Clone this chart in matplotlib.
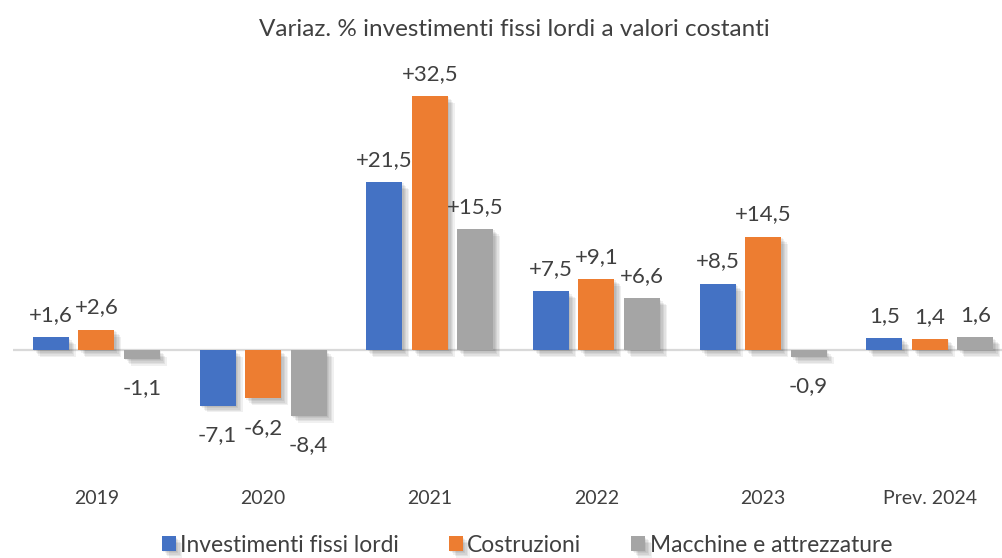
import matplotlib.pyplot as plt
import matplotlib.patheffects as pe
import numpy as np

## Data
anni = ["2019", "2020", "2021", "2022", "2023", "Prev. 2024"]
investimenti = [1.6, -7.1, 21.5, 7.5, 8.5, 1.5]
costruzioni = [2.6, -6.2, 32.5, 9.1, 14.5, 1.4]
macchine = [-1.1, -8.4, 15.5, 6.6, -0.9, 1.6]

serie = [
    ("Investimenti fissi lordi", investimenti, "#4472C4"),
    ("Costruzioni", costruzioni, "#ED7D31"),
    ("Macchine e attrezzature", macchine, "#A5A5A5"),
]

plt.rcParams['font.family'] = ['Lato', 'DejaVu Sans']
txt_col = "#404040"

fig = plt.figure(figsize=(10.03, 5.58), dpi=100)
ax = fig.add_axes([0.013, 1 - 443.8 / 558, 0.987, 383 / 558])

x = np.arange(len(anni))
w = 0.216
step = 0.273

# soft shadow, a few stacked offsets
ombra = [pe.SimplePatchShadow(offset=(d, -d), shadow_rgbFace="black", alpha=0.06) for d in (1, 2, 3, 4, 5)]
ombra.append(pe.Normal())

ax.axhline(0, color="#D9D9D9", lw=1.6, zorder=1)

for i, (nome, vals, col) in enumerate(serie):
    pos = x + (i - 1) * step
    bars = ax.bar(pos, vals, width=w, color=col, label=nome, zorder=3)
    for b in bars:
        b.set_path_effects(ombra)
    for j, (px, v) in enumerate(zip(pos, vals)):
        if j == len(anni) - 1:
            lab = f"{v:.1f}".replace(".", ",")
        else:
            lab = f"{v:+.1f}".replace(".", ",")
        off = 16 if v >= 0 else -21
        ax.annotate(lab, (px, v), xytext=(0, off), textcoords="offset points",
                    ha="center", va="center", fontsize=16, color=txt_col)

ax.set_xlim(-0.5, -0.5 + 990 / 166.7)
ax.set_ylim(-12, 37)
ax.set_xticks(x)
ax.set_xticklabels(anni, fontsize=14, color=txt_col)
ax.tick_params(axis="x", length=0, pad=33)
ax.set_yticks([])
for s in ax.spines.values():
    s.set_visible(False)

fig.text(514 / 1003, 1 - 30 / 558, "Variaz. % investimenti fissi lordi a valori costanti",
         ha="center", va="center", fontsize=17.5, color=txt_col)

leg = fig.legend(loc="center", bbox_to_anchor=(527 / 1003, 1 - 545 / 558), ncol=3,
                 frameon=False, fontsize=16.4, handlelength=0.6, handleheight=0.6,
                 handletextpad=0.2, columnspacing=2.2, borderpad=0.1)
for t in leg.get_texts():
    t.set_color(txt_col)

fig.savefig("out.png", dpi=100)
